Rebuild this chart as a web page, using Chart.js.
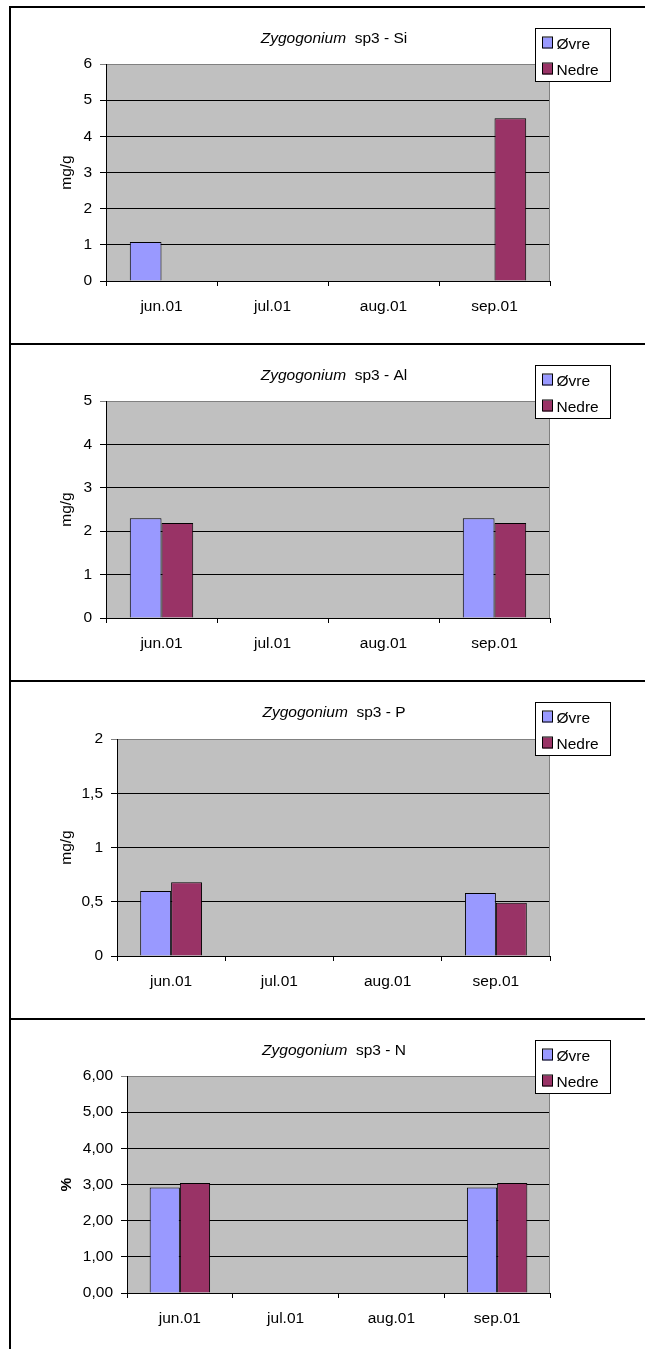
<!DOCTYPE html>
<html>
<head>
<meta charset="utf-8">
<script src="https://cdn.jsdelivr.net/npm/chart.js@4/dist/chart.umd.min.js"></script>
<style>
  html, body { margin: 0; padding: 0; background: #fff; }
  body { width: 645px; height: 1349px; position: relative; overflow: hidden; }
  .rule { position: absolute; background: #000; }
  canvas.panel { position: absolute; left: 11px; }
</style>
</head>
<body>
<div class="rule" style="left:9px;top:6px;width:2px;height:1343px"></div>
<div class="rule" style="left:9px;top:6px;width:636px;height:2px"></div>
<div class="rule" style="left:9px;top:343px;width:636px;height:2px"></div>
<div class="rule" style="left:9px;top:680px;width:636px;height:2px"></div>
<div class="rule" style="left:9px;top:1018px;width:636px;height:2px"></div>

<canvas class="panel" id="cSi" width="634" height="320" style="top:8px"></canvas>
<canvas class="panel" id="cAl" width="634" height="320" style="top:345px"></canvas>
<canvas class="panel" id="cP" width="634" height="320" style="top:682px"></canvas>
<canvas class="panel" id="cN" width="634" height="320" style="top:1020px"></canvas>

<script>
// Sampling months and the two stations
const months = ['jun.01', 'jul.01', 'aug.01', 'sep.01'];
const seriesNames = ['Øvre', 'Nedre'];
const seriesColors = ['#9999FF', '#993366'];

// Si content, mg/g
const siOvre = [1.08, null, null, null];
const siNedre = [null, null, null, 4.5];
const siTicks = ['0', '1', '2', '3', '4', '5', '6'];

// Al content, mg/g
const alOvre = [2.3, null, null, 2.3];
const alNedre = [2.19, null, null, 2.19];
const alTicks = ['0', '1', '2', '3', '4', '5'];

// P content, mg/g
const pOvre = [0.6, null, null, 0.58];
const pNedre = [0.68, null, null, 0.49];
const pTicks = ['0', '0,5', '1', '1,5', '2'];

// N content, %
const nOvre = [2.92, null, null, 2.92];
const nNedre = [3.04, null, null, 3.04];
const nTicks = ['0,00', '1,00', '2,00', '3,00', '4,00', '5,00', '6,00'];

const FONT = '"Liberation Sans", Arial, sans-serif';
const FS = 15.5;

// Plot background, frame, legend box, mixed-style title and rotated unit label
const panelDecor = {
  id: 'panelDecor',
  beforeDraw(chart) {
    const a = chart.chartArea, ctx = chart.ctx;
    ctx.save();
    ctx.fillStyle = '#C0C0C0';
    ctx.fillRect(a.left, a.top, a.right - a.left, a.bottom - a.top);
    ctx.restore();
  },
  afterDraw(chart, args, o) {
    const a = chart.chartArea, ctx = chart.ctx;
    ctx.save();
    // right frame edge of the plot
    ctx.strokeStyle = '#808080';
    ctx.lineWidth = 1;
    ctx.beginPath();
    ctx.moveTo(Math.round(a.right) - 0.5, a.top);
    ctx.lineTo(Math.round(a.right) - 0.5, a.bottom);
    ctx.stroke();

    // legend
    ctx.fillStyle = '#fff';
    ctx.fillRect(525, 21, 75, 53);
    ctx.strokeStyle = '#000';
    ctx.strokeRect(524.5, 20.5, 75, 53);
    ctx.font = FS + 'px ' + FONT;
    ctx.textAlign = 'left';
    ctx.textBaseline = 'alphabetic';
    chart.data.datasets.forEach((ds, i) => {
      const y = 29.5 + i * 26;
      ctx.fillStyle = ds.backgroundColor;
      ctx.fillRect(532, y, 10, 11);
      ctx.strokeStyle = '#000';
      ctx.strokeRect(531.5, y - 0.5, 10, 11);
      ctx.fillStyle = '#000';
      ctx.fillText(ds.label, 545.5, y + 11);
    });

    // title: italic genus, upright remainder
    const italicPart = 'Zygogonium';
    const rest = ' sp3 - ' + o.element;
    const fItalic = 'italic ' + FS + 'px ' + FONT;
    const fNormal = FS + 'px ' + FONT;
    ctx.font = fItalic;
    const w1 = ctx.measureText(italicPart + ' ').width;
    ctx.font = fNormal;
    const w2 = ctx.measureText(rest).width;
    let x = 323 - (w1 + w2) / 2;
    ctx.fillStyle = '#000';
    ctx.font = fItalic;
    ctx.fillText(italicPart, x, 35.3);
    ctx.font = fNormal;
    ctx.fillText(rest, x + w1, 35.3);

    // unit label
    ctx.translate(59.5, (a.top + a.bottom) / 2);
    ctx.rotate(-Math.PI / 2);
    ctx.textAlign = 'center';
    ctx.font = (o.unitBold ? 'bold ' : '') + FS + 'px ' + FONT;
    ctx.fillText(o.unit, 0, 0);
    ctx.restore();
  }
};

function makePanel(id, element, unit, unitBold, ovre, nedre, tickLabels, step, plotLeft, plotTop, plotBottom) {
  const canvas = document.getElementById(id);
  const H = canvas.height;
  const maxVal = (tickLabels.length - 1) * step;
  return new Chart(canvas, {
    type: 'bar',
    data: {
      labels: months,
      datasets: [
        { label: seriesNames[0], data: ovre, backgroundColor: seriesColors[0], borderColor: '#000', borderWidth: 1 },
        { label: seriesNames[1], data: nedre, backgroundColor: seriesColors[1], borderColor: '#000', borderWidth: 1 }
      ]
    },
    options: {
      responsive: false,
      animation: false,
      devicePixelRatio: 1,
      layout: { padding: { top: plotTop, right: 95, left: 0, bottom: 0 } },
      datasets: { bar: { categoryPercentage: 2 / 3.5, barPercentage: 1.0 } },
      plugins: {
        legend: { display: false },
        title: { display: false },
        tooltip: { enabled: false },
        panelDecor: { element: element, unit: unit, unitBold: unitBold }
      },
      scales: {
        x: {
          offset: true,
          grid: { offset: true, drawOnChartArea: false, drawTicks: true, tickLength: 5, color: '#000' },
          border: { display: true, color: '#000', width: 1 },
          ticks: { color: '#000', font: { family: FONT, size: FS }, padding: 11, maxRotation: 0, autoSkip: false },
          afterFit(scale) { scale.height = H - plotBottom; }
        },
        y: {
          min: 0,
          max: maxVal,
          grid: {
            drawTicks: true,
            tickLength: 6,
            color: (c) => (c.tick && Math.abs(c.tick.value - maxVal) < 1e-9) ? '#808080' : '#000'
          },
          border: { display: true, color: '#000', width: 1 },
          ticks: {
            stepSize: step,
            color: '#000',
            padding: 8,
            font: { family: FONT, size: FS },
            callback: (v, i) => tickLabels[i]
          },
          afterFit(scale) { scale.width = plotLeft; }
        }
      }
    },
    plugins: [panelDecor]
  });
}

makePanel('cSi', 'Si', 'mg/g', false, siOvre, siNedre, siTicks, 1, 95, 56, 273);
makePanel('cAl', 'Al', 'mg/g', false, alOvre, alNedre, alTicks, 1, 95, 56, 273);
makePanel('cP', 'P', 'mg/g', false, pOvre, pNedre, pTicks, 0.5, 106, 57, 274);
makePanel('cN', 'N', '%', true, nOvre, nNedre, nTicks, 1, 116, 56, 273);
</script>
</body>
</html>
